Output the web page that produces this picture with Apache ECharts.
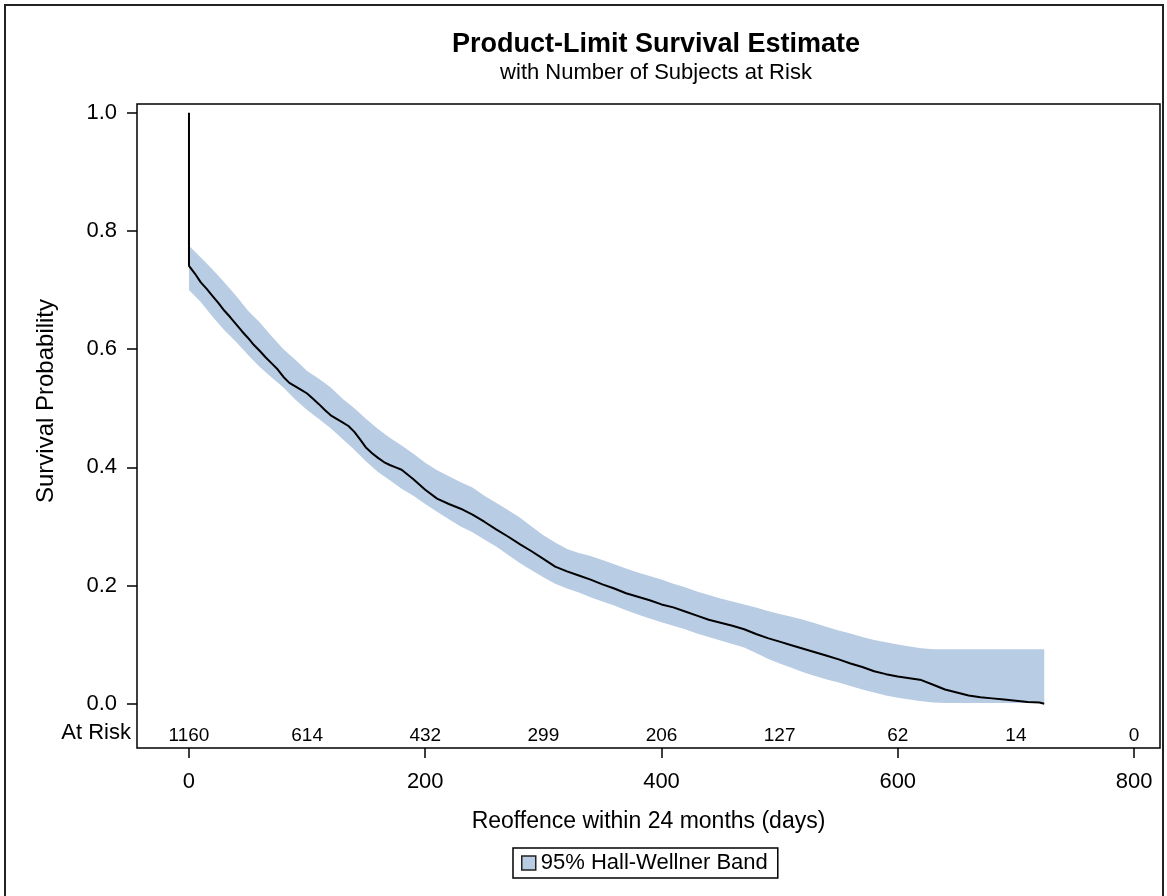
<!DOCTYPE html>
<html>
<head>
<meta charset="utf-8">
<script src="https://cdn.jsdelivr.net/npm/echarts@6/dist/echarts.min.js"></script>
<style>
  html, body { margin: 0; padding: 0; background: #fff; }
  #chart { width: 1167px; height: 896px; }
</style>
</head>
<body>
<div id="chart"></div>
<script>
// Kaplan-Meier estimate
const survTimes = [0, 0, 5, 10, 15, 20, 25, 30, 35, 40, 45, 50, 55, 60, 65, 70, 75, 80, 85, 90, 95,
  100, 105, 110, 115, 120, 125, 130, 135, 140, 145, 150, 155, 160, 165, 170, 175, 180, 185, 190, 195, 200,
  210, 220, 230, 240, 250, 260, 270, 280, 290, 300, 310, 320, 330, 340, 350, 360, 370, 380, 390, 400,
  410, 420, 430, 440, 450, 460, 470, 480, 490, 500, 510, 520, 530, 540, 550, 560, 570, 580, 590, 600,
  610, 620, 630, 640, 650, 660, 670, 680, 690, 700, 710, 720, 724];
const survValues = [1.0, 0.741, 0.728, 0.713, 0.702, 0.690, 0.678, 0.665, 0.654, 0.642, 0.630, 0.619, 0.607, 0.597, 0.586, 0.576, 0.566, 0.553, 0.543, 0.537, 0.531,
  0.525, 0.516, 0.507, 0.497, 0.488, 0.482, 0.476, 0.470, 0.460, 0.447, 0.433, 0.424, 0.416, 0.409, 0.404, 0.400, 0.396, 0.388, 0.380, 0.371, 0.362,
  0.347, 0.338, 0.330, 0.320, 0.308, 0.295, 0.283, 0.270, 0.258, 0.245, 0.232, 0.224, 0.217, 0.210, 0.202, 0.195, 0.187, 0.181, 0.175, 0.168,
  0.163, 0.156, 0.149, 0.142, 0.137, 0.132, 0.126, 0.118, 0.111, 0.105, 0.099, 0.093, 0.087, 0.081, 0.075, 0.068, 0.062, 0.055, 0.050, 0.046,
  0.043, 0.040, 0.032, 0.024, 0.019, 0.014, 0.011, 0.009, 0.007, 0.005, 0.003, 0.002, 0.0];

// 95% Hall-Wellner band
const bandTimes = [0, 10, 20, 30, 40, 50, 60, 70, 80, 90, 100, 110, 120, 130, 140, 150, 160, 170, 180, 190, 200,
  210, 220, 230, 240, 250, 260, 270, 280, 290, 300, 310, 320, 330, 340, 350, 360, 370, 380, 390, 400,
  410, 420, 430, 440, 450, 460, 470, 480, 490, 500, 510, 520, 530, 540, 550, 560, 570, 580, 590, 600,
  610, 620, 630, 640, 650, 660, 670, 680, 690, 700, 710, 720, 724];
const bandUpper = [0.775, 0.755, 0.735, 0.713, 0.690, 0.665, 0.645, 0.622, 0.600, 0.582, 0.563, 0.550, 0.535, 0.516, 0.500, 0.482, 0.465, 0.450, 0.437, 0.423, 0.408,
  0.395, 0.385, 0.375, 0.366, 0.352, 0.340, 0.328, 0.315, 0.300, 0.285, 0.273, 0.262, 0.255, 0.250, 0.243, 0.236, 0.229, 0.222, 0.216, 0.210,
  0.203, 0.197, 0.190, 0.184, 0.178, 0.173, 0.168, 0.163, 0.157, 0.152, 0.147, 0.142, 0.136, 0.130, 0.124, 0.119, 0.113, 0.108, 0.104, 0.100,
  0.097, 0.094, 0.092, 0.092, 0.092, 0.092, 0.092, 0.092, 0.092, 0.092, 0.092, 0.092, 0.092];
const bandLower = [0.700, 0.680, 0.655, 0.632, 0.612, 0.590, 0.570, 0.552, 0.535, 0.515, 0.497, 0.482, 0.466, 0.448, 0.430, 0.410, 0.392, 0.378, 0.364, 0.352, 0.338,
  0.325, 0.312, 0.300, 0.290, 0.278, 0.266, 0.252, 0.238, 0.226, 0.214, 0.203, 0.195, 0.188, 0.180, 0.173, 0.166, 0.158, 0.151, 0.144, 0.138,
  0.132, 0.126, 0.119, 0.113, 0.107, 0.101, 0.095, 0.086, 0.076, 0.068, 0.061, 0.053, 0.047, 0.041, 0.036, 0.030, 0.024, 0.019, 0.014, 0.010,
  0.007, 0.004, 0.002, 0.001, 0.001, 0.001, 0.001, 0.001, 0.001, 0.001, 0.001, 0.001, 0.001];

const riskTimes = [0, 100, 200, 300, 400, 500, 600, 700, 800];
const riskCounts = [1160, 614, 432, 299, 206, 127, 62, 14, 0];

const xTicks = [0, 200, 400, 600, 800];
const yTicks = [0, 0.2, 0.4, 0.6, 0.8, 1.0];

const FONT = "'Liberation Sans', Arial, sans-serif";
const BAND_COLOR = "#b8cce4";
const RISK_ROW = -0.054;

const chart = echarts.init(document.getElementById("chart"));

// band drawn as one polygon: upper edge left->right, lower edge back
const renderBand = (params, api) => {
  if (params.dataIndex !== 0) return null;
  const pts = [];
  for (let i = 0; i < bandTimes.length; i++) {
    pts.push(api.coord([bandTimes[i], bandUpper[i]]));
  }
  for (let i = bandTimes.length - 1; i >= 0; i--) {
    pts.push(api.coord([bandTimes[i], bandLower[i]]));
  }
  return {
    type: "polygon",
    shape: { points: pts },
    style: { fill: BAND_COLOR, stroke: null }
  };
};

// numbers at risk, one text per time point inside the frame
const renderRisk = (params, api) => {
  const p = api.coord([api.value(0), api.value(1)]);
  return {
    type: "text",
    x: p[0],
    y: p[1],
    style: {
      text: String(api.value(2)),
      fontFamily: FONT,
      fontSize: 19,
      fill: "#000",
      align: "center",
      verticalAlign: "middle"
    }
  };
};

const option = {
  animation: false,
  backgroundColor: "#fff",
  textStyle: { fontFamily: FONT },
  title: {
    text: "Product-Limit Survival Estimate",
    subtext: "with Number of Subjects at Risk",
    left: 651,
    textAlign: "center",
    top: 26,
    itemGap: 4,
    textStyle: { fontFamily: FONT, fontSize: 27, fontWeight: "bold", color: "#000" },
    subtextStyle: { fontFamily: FONT, fontSize: 22, color: "#000" }
  },
  legend: {
    left: 513,
    top: 848,
    data: [{
      name: "95% Hall-Wellner Band",
      icon: "rect",
      itemStyle: { color: BAND_COLOR, borderColor: "#222", borderWidth: 1.5 }
    }],
    itemWidth: 14,
    itemHeight: 14,
    itemGap: 6,
    padding: [4, 10, 4, 8],
    borderColor: "#000",
    borderWidth: 1.5,
    textStyle: { fontFamily: FONT, fontSize: 22, color: "#000" }
  },
  grid: {
    left: 137,
    right: 7,
    top: 104,
    bottom: 148,
    show: true,
    borderColor: "#000",
    borderWidth: 1.5,
    backgroundColor: "transparent"
  },
  xAxis: {
    type: "value",
    min: -44,
    max: 822,
    name: "Reoffence within 24 months (days)",
    nameLocation: "middle",
    nameGap: 62,
    nameTextStyle: { fontFamily: FONT, fontSize: 23, color: "#000" },
    axisLine: { show: false, onZero: false },
    splitLine: { show: false },
    axisTick: { show: true, length: 10, customValues: xTicks, lineStyle: { color: "#000", width: 1.5 } },
    axisLabel: { customValues: xTicks, margin: 23, fontFamily: FONT, fontSize: 22, color: "#000" }
  },
  yAxis: {
    type: "value",
    min: -0.075,
    max: 1.015,
    axisLine: { show: false, onZero: false },
    splitLine: { show: false },
    axisTick: { show: true, length: 10, customValues: yTicks, lineStyle: { color: "#000", width: 1.5 } },
    axisLabel: {
      customValues: yTicks,
      margin: 20,
      fontFamily: FONT,
      fontSize: 22,
      color: "#000",
      formatter: (v) => v.toFixed(1)
    }
  },
  graphic: [
    {
      type: "rect",
      silent: true,
      shape: { x: 5, y: 5, width: 1158, height: 900 },
      style: { fill: "none", stroke: "#222", lineWidth: 2 }
    },
    {
      type: "text",
      x: 46,
      y: 401,
      rotation: Math.PI / 2,
      style: { text: "Survival Probability", fontFamily: FONT, fontSize: 24, fill: "#000", align: "center", verticalAlign: "middle" }
    },
    {
      type: "text",
      x: 131,
      y: 733,
      style: { text: "At Risk", fontFamily: FONT, fontSize: 22, fill: "#000", align: "right", verticalAlign: "middle" }
    }
  ],
  series: [
    {
      name: "95% Hall-Wellner Band",
      type: "custom",
      silent: true,
      itemStyle: { color: BAND_COLOR },
      renderItem: renderBand,
      data: bandTimes.map((t, i) => [t, bandLower[i], bandUpper[i]])
    },
    {
      name: "Survival",
      type: "line",
      symbol: "none",
      z: 5,
      lineStyle: { color: "#000", width: 2 },
      data: survTimes.map((t, i) => [t, survValues[i]])
    },
    {
      name: "At Risk",
      type: "custom",
      silent: true,
      z: 6,
      renderItem: renderRisk,
      data: riskTimes.map((t, i) => [t, RISK_ROW, riskCounts[i]])
    }
  ]
};

chart.setOption(option);
</script>
</body>
</html>
